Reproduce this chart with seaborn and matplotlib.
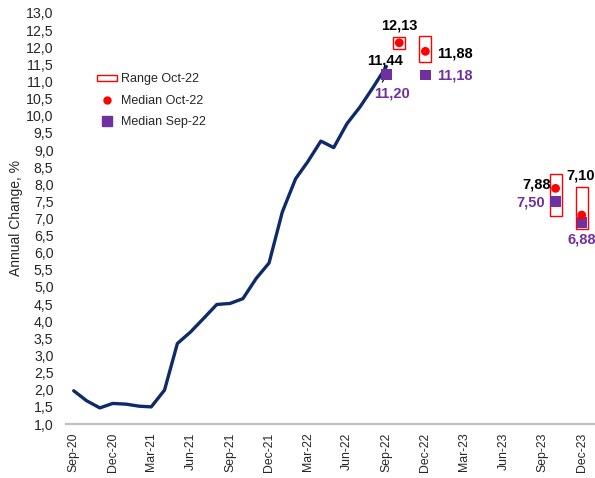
import pandas as pd
import seaborn as sns
import matplotlib.pyplot as plt
from matplotlib.patches import Patch
from matplotlib.lines import Line2D
from matplotlib.ticker import FuncFormatter
import matplotlib.dates as mdates

# actual annual change, monthly Sep-20 .. Sep-22
months = pd.date_range('2020-09-01', '2022-09-01', freq='MS')
annual_change = [1.97, 1.68, 1.47, 1.60, 1.58, 1.52, 1.50, 1.99, 3.35, 3.69,
                 4.08, 4.49, 4.52, 4.66, 5.25, 5.70, 7.19, 8.16, 8.65, 9.26,
                 9.07, 9.77, 10.25, 10.83, 11.44]

# survey of Oct-22
oct_dates = pd.to_datetime(['2022-10-01', '2022-12-01', '2023-10-01', '2023-12-01'])
range_low = [11.94, 11.56, 7.06, 6.70]
range_high = [12.29, 12.32, 8.29, 7.92]
median_oct = [12.13, 11.88, 7.88, 7.10]

# survey of Sep-22
sep_dates = pd.to_datetime(['2022-09-01', '2022-12-01', '2023-10-01', '2023-12-01'])
median_sep = [11.20, 11.18, 7.50, 6.88]

tick_dates = pd.date_range('2020-09-01', '2023-12-01', freq='3MS')

NAVY = '#0E2A6B'
RED = '#FF0000'
PURPLE = '#7030A0'

sns.set_style('white')
plt.rcParams['font.family'] = ['Liberation Sans', 'DejaVu Sans']

fig = plt.figure(figsize=(5.95, 4.78), dpi=100)
ax = fig.add_axes([66 / 595, 54 / 478, 529 / 595, 411 / 478])

line_df = pd.DataFrame({'date': months, 'value': annual_change})
sns.lineplot(data=line_df, x='date', y='value', ax=ax, color=NAVY, lw=2.4)

heights = [h - l for h, l in zip(range_high, range_low)]
ax.bar(oct_dates, heights, bottom=range_low, width=28, fill=False,
       edgecolor=RED, linewidth=1.0, zorder=3)

sns.scatterplot(x=sep_dates, y=median_sep, ax=ax, marker='s', s=55,
                color=PURPLE, edgecolor='none', zorder=4)
sns.scatterplot(x=oct_dates, y=median_oct, ax=ax, marker='o', s=40,
                color=RED, edgecolor='none', zorder=5)

px = 0.72  # pixel -> point


def label(text, x, y, dx, dy, color='black', ha='center', arrow=False):
    kw = dict(textcoords='offset points', ha=ha, va='center', color=color,
              fontsize=10.5, fontweight='bold', annotation_clip=False)
    if arrow:
        kw['arrowprops'] = dict(arrowstyle='-', color='black', lw=0.8,
                                relpos=(0.15, 1.0), shrinkA=1, shrinkB=1)
    ax.annotate(text, xy=(x, y), xytext=(dx * px, dy * px), **kw)


fmt = lambda v: f'{v:.2f}'.replace('.', ',')
label(fmt(annual_change[-1]), months[-1], annual_change[-1], -1, 6)
label(fmt(median_oct[0]), oct_dates[0], median_oct[0], 0, 17)
label(fmt(median_oct[1]), oct_dates[1], median_oct[1], 12, -2, ha='left')
label(fmt(median_oct[2]), oct_dates[2], median_oct[2], -5, 4, ha='right')
label(fmt(median_oct[3]), oct_dates[3], median_oct[3], -1, 40)
label(fmt(median_sep[0]), sep_dates[0], median_sep[0], 6, -19, color=PURPLE, arrow=True)
label(fmt(median_sep[1]), sep_dates[1], median_sep[1], 12, 0, color=PURPLE, ha='left')
label(fmt(median_sep[2]), sep_dates[2], median_sep[2], -11, -1, color=PURPLE, ha='right')
label(fmt(median_sep[3]), sep_dates[3], median_sep[3], 0, -17, color=PURPLE)

ax.set_xlim(pd.Timestamp('2020-08-14'), pd.Timestamp('2024-01-01'))
ax.set_ylim(1.0, 13.0)
ax.set_yticks([1.0 + 0.5 * i for i in range(25)])
ax.yaxis.set_major_formatter(FuncFormatter(lambda v, p: f'{v:.1f}'.replace('.', ',')))
ax.set_xticks(tick_dates)
ax.xaxis.set_major_formatter(mdates.DateFormatter('%b-%y'))
ax.tick_params(axis='y', length=0, pad=9, labelsize=10.2)
ax.tick_params(axis='x', length=0, pad=6, labelsize=8.8, labelrotation=90)
ax.set_xlabel('')
ax.set_ylabel('Annual Change, %', fontsize=10, labelpad=2)

for s in ['left', 'top', 'right']:
    ax.spines[s].set_visible(False)
ax.spines['bottom'].set_color('#BFBFBF')
ax.spines['bottom'].set_linewidth(1.6)

handles = [
    Patch(facecolor='white', edgecolor=RED, linewidth=1.0),
    Line2D([], [], marker='o', color=RED, linestyle='none', markersize=5),
    Line2D([], [], marker='s', color=PURPLE, linestyle='none', markersize=7),
]
ax.legend(handles, ['Range Oct-22', 'Median Oct-22', 'Median Sep-22'],
          loc='upper left', bbox_to_anchor=(0.05, 0.865), frameon=False,
          fontsize=9, handlelength=1.6, handleheight=0.45, handletextpad=0.3,
          labelspacing=0.75, borderaxespad=0)

fig.savefig('out.png', dpi=100)
